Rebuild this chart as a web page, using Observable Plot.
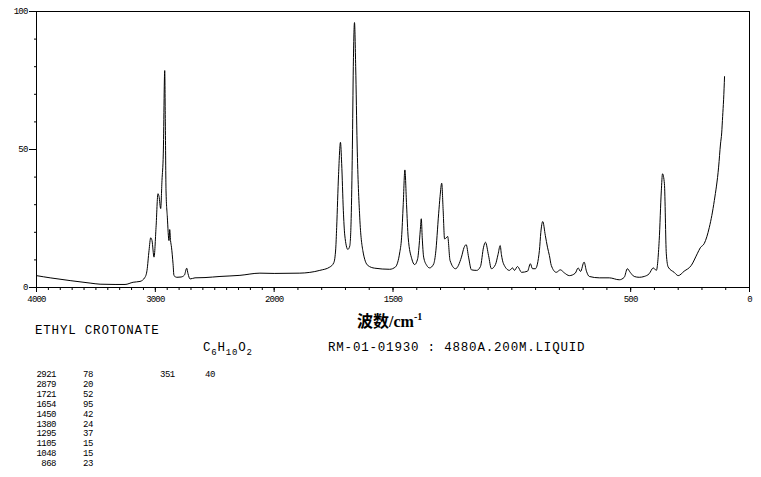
<!DOCTYPE html>
<html><head><meta charset="utf-8">
<script src="https://cdn.jsdelivr.net/npm/d3@7"></script>
<script src="https://cdn.jsdelivr.net/npm/@observablehq/plot@0.6"></script>
<style>
body{margin:0;background:#fff;}
#wrap{position:relative;width:761px;height:477px;background:#fff;overflow:hidden}
#wrap svg text{letter-spacing:-0.8px}
.t{position:absolute;white-space:pre;color:#000;font-family:"Liberation Mono",monospace;line-height:1}
.big{font-size:12.5px;letter-spacing:0.8px}
.sm{font-size:9px;letter-spacing:-0.5px}
.xl{position:absolute;white-space:pre;color:#000;font-family:"Liberation Serif","Noto Sans CJK SC",serif;font-weight:bold;font-size:16px;line-height:1}
</style></head><body><div id="wrap"></div>
<script>
// spectrum (wavenumber cm^-1, relative intensity)
const wavenumber = [4000,3885,3717,3549,3465,3339,3255,3187,3129,3087,3070,3053,3039,3028,3011,2994,2978,2969,2955,2944,2933,2921,2916,2910,2899,2885,2879,2872,2864,2851,2843,2818,2784,2755,2736,2725,2708,2666,2582,2456,2288,2120,2000,1892,1808,1766,1749,1741,1737,1729,1721,1716,1709,1703,1690,1682,1676,1671,1667,1662,1657,1651,1640,1627,1606,1577,1514,1489,1480,1472,1464,1457,1450,1443,1436,1421,1409,1396,1392,1385,1381,1377,1371,1358,1346,1329,1321,1308,1302,1295,1289,1283,1276,1270,1260,1237,1212,1201,1192,1182,1170,1148,1132,1119,1111,1098,1086,1069,1058,1049,1044,1035,1010,997,989,976,959,934,922,913,901,884,878,870,859,850,842,834,813,796,779,758,733,721,711,696,686,674,632,590,548,527,514,502,485,464,443,422,405,392,380,371,366,358,350,342,317,300,275,245,220,207,190,169,148,130,122,117,113,109,105];
const intensity = [4.3,3.5,2.5,1.6,1.2,1.1,1.1,1.9,2.2,3.7,6.2,13.4,18,17,11,21.8,34,33,28.6,38.8,48.4,78.6,60,35,25.5,17,21,17,14.6,8.6,4.3,3.7,3.8,4.5,7,5,3.1,3.5,3.6,4,4.4,5.2,5.1,5.2,6.2,7.4,9,14,21.8,41,52.6,45,28,19,13.8,15,25,50,80,96,80,52,25.5,13.4,8,7,6.6,7.5,9.2,12.5,18,30,42.6,30,18,10.4,8.3,10.5,13.4,21,24.9,18,11,8,7.1,8.5,12.2,26.7,33,37.8,28,17.6,18,18.5,9.8,6.8,11,14.5,15.5,11,6.4,6.2,7.6,14.6,16.4,11.6,6.8,8.3,12,15.2,12,8.6,6.2,7.1,6.2,7.6,5.5,5.9,8.6,6.8,6.8,13.4,20,23.9,18.8,14.6,11.6,8,5.5,6.4,5.3,4.3,5.2,7.1,5.8,9.2,5.9,4,3.5,3.5,2.8,3.7,6.8,5.5,4,3.7,4,5,7.1,6.2,17,35,41.2,37.6,12.2,7.4,5.5,4.3,5.9,8,12.2,14.4,16,21.8,31.5,43.6,52,56,62,68,76.4];

// axis ticks
const xMajorTicks = [4000,3000,2000,1500,500,0];
const xMinorTicks = d3.range(0, 4001, 100);
const yMajorTicks = [0,50,100];
const yMinorTicks = [10,20,30,40,60,70,80,90];
const xLabel = "波数/cm";
const xBreak = 2000; // above this wavenumber the axis is compressed 2:1

// annotation texts
const compound = "ETHYL CROTONATE";
const sampleInfo = "RM-01-01930 : 4880A.200M.LIQUID";
const peakWavenumbers = [2921,2879,1721,1654,1450,1380,1295,1105,1048,868];
const peakIntensities = [78,20,52,95,42,24,37,15,15,23];
const extraPeakWavenumbers = [351];
const extraPeakIntensities = [40];

const data = wavenumber.map((w, i) => ({w, v: intensity[i]}));

const chart = Plot.plot({
  width: 761, height: 310,
  marginLeft: 36, marginRight: 12, marginTop: 11, marginBottom: 23,
  style: {background: "white", color: "black", fontFamily: "Liberation Mono, monospace", fontSize: "9px"},
  x: {transform: w => w > xBreak ? xBreak + (w - xBreak) / 2 : w, reverse: true},
  y: {domain: [0, 100]},
  marks: [
    Plot.axisX(xMinorTicks, {tickSize: 3, tickFormat: () => "", label: null}),
    Plot.axisX(xMajorTicks, {tickSize: 5, tickPadding: 3, tickFormat: d => String(d), label: null}),
    Plot.axisY(yMinorTicks, {tickSize: 2, tickFormat: () => "", label: null}),
    Plot.axisY(yMajorTicks, {tickSize: 7, tickPadding: 2, tickFormat: d => String(d), label: null}),
    Plot.frame({stroke: "black", strokeWidth: 1}),
    Plot.line(data, {x: "w", y: "v", stroke: "black", strokeWidth: 1, curve: "monotone-x"})
  ]
});
const wrap = document.getElementById("wrap");
wrap.appendChild(chart);
chart.style.position = "absolute"; chart.style.left = "0"; chart.style.top = "0";

function addText(cls, html, left, top, extra) {
  const d = document.createElement("div");
  d.className = cls; d.innerHTML = html;
  d.style.left = left + "px"; d.style.top = top + "px";
  if (extra) Object.assign(d.style, extra);
  wrap.appendChild(d);
  return d;
}
addText("xl", xLabel + '<sup style="font-size:10px;position:relative;top:-1px">-1</sup>', 357, 313);
addText("t big", compound, 35, 325);
addText("t big", 'C<sub style="font-size:9px">6</sub>H<sub style="font-size:9px">10</sub>O<sub style="font-size:9px">2</sub>', 203, 342);
addText("t big", sampleInfo, 328, 342);
peakWavenumbers.forEach((w, i) => {
  const top = 371 + i * 9.9;
  addText("t sm", String(w), 0, top, {width: "56px", textAlign: "right"});
  addText("t sm", String(peakIntensities[i]), 83, top);
});
extraPeakWavenumbers.forEach((w, i) => {
  const top = 371 + i * 9.9;
  addText("t sm", String(w), 160, top);
  addText("t sm", String(extraPeakIntensities[i]), 205, top);
});
</script></body></html>
